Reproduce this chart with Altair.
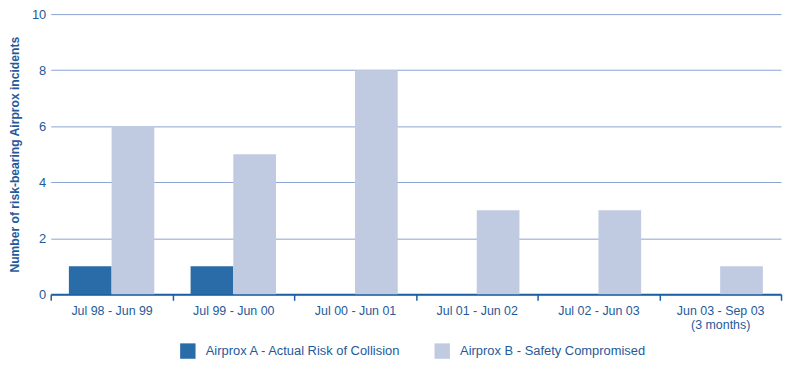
import altair as alt
import pandas as pd

periods = ["Jul 98 - Jun 99", "Jul 99 - Jun 00", "Jul 00 - Jun 01",
           "Jul 01 - Jun 02", "Jul 02 - Jun 03", "Jun 03 - Sep 03|(3 months)"]
series = ["Airprox A - Actual Risk of Collision", "Airprox B - Safety Compromised"]
airprox_a = [1, 1, 0, 0, 0, 0]
airprox_b = [6, 5, 8, 3, 3, 1]
y_ticks = [0, 2, 4, 6, 8, 10]

rows = []
for p, a, b in zip(periods, airprox_a, airprox_b):
    rows.append({"period": p, "series": series[0], "value": a})
    rows.append({"period": p, "series": series[1], "value": b})
df = pd.DataFrame(rows)

TEXT = "#1f5a9a"
W, H = 735, 282

bars = alt.Chart(df).mark_bar().encode(
    x=alt.X("period:N", sort=periods, title=None,
            scale=alt.Scale(paddingInner=0, paddingOuter=0),
            axis=alt.Axis(tickBand="extent", labelAngle=0, labelColor=TEXT,
                          labelFont="Liberation Sans", labelFontSize=12.5,
                          labelPadding=4, labelAlign="center",
                          labelExpr="split(datum.label, '|')",
                          domainColor="#1a5ea6", domainWidth=2,
                          tickColor="#1a5ea6", tickSize=6, tickWidth=1.5,
                          grid=False)),
    xOffset=alt.XOffset("series:N", sort=series,
                        scale=alt.Scale(paddingInner=0, paddingOuter=0.425)),
    y=alt.Y("value:Q", scale=alt.Scale(domain=[0, 10], nice=False),
            title="Number of risk-bearing Airprox incidents",
            axis=alt.Axis(values=y_ticks, domain=False, ticks=False,
                          labelColor=TEXT, labelFont="Liberation Sans",
                          labelFontSize=13, labelPadding=5,
                          titleColor=TEXT, titleFont="Liberation Sans",
                          titleFontSize=12.2, titleFontWeight="bold",
                          titleX=-36, titleY=H / 2, titleAngle=270,
                          titleAlign="center", titleBaseline="middle",
                          gridColor="#8aa3d3", gridWidth=1)),
    color=alt.Color("series:N", sort=series, title=None,
                    scale=alt.Scale(domain=series, range=["#2a6ca8", "#c0cbe2"]),
                    legend=alt.Legend(orient="none", direction="horizontal",
                                      legendX=130, legendY=331,
                                      symbolType="square", symbolSize=240,
                                      symbolStrokeWidth=0, symbolOpacity=1,
                                      labelColor=TEXT, labelFont="Liberation Sans",
                                      labelFontSize=13, labelOffset=10,
                                      labelLimit=0, columnPadding=32)),
)

chart = bars.properties(
    width=W, height=H,
    autosize=alt.AutoSizeParams(type="none"),
    padding={"left": 43, "top": 5, "right": 4, "bottom": 70},
).configure_view(stroke=None).configure_legend(symbolFillColor="#0a5ba0")

chart.save("out.html", embed_options={"renderer": "svg", "actions": False})
